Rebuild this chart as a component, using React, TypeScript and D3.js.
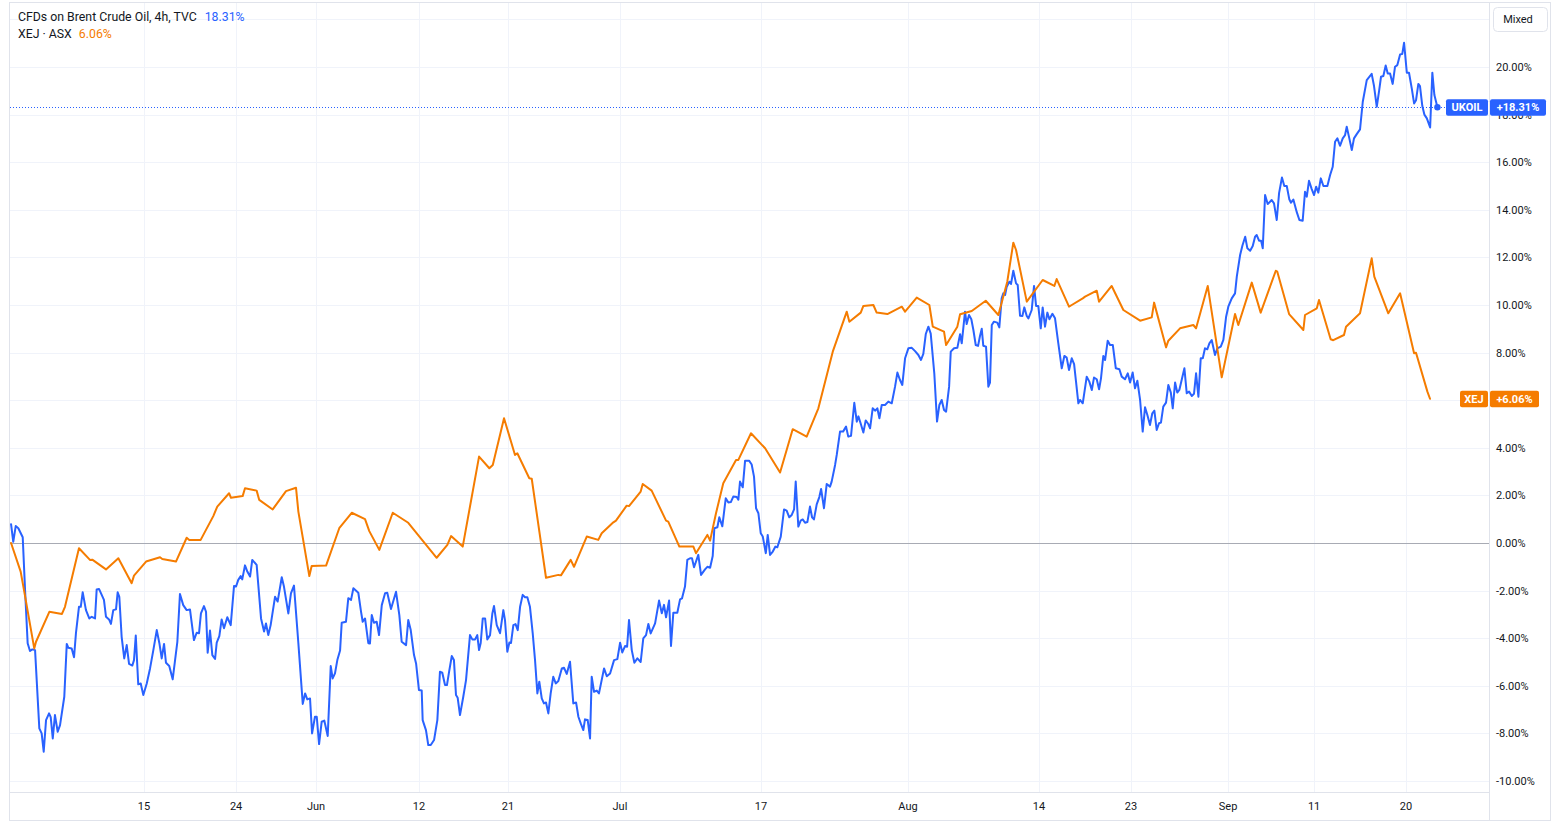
import React, { useEffect } from "react";
import * as d3 from "d3";

// x = trading days since 1 May 2023, y = % change
const oilSeries: [number, number][] = [
  [0.31, 0.79], [0.47, 0.05], [0.65, 0.71], [0.84, 0.62], [1.16, 0.24], [1.33, -1.97], [1.52, -4.21], [1.69, -4.54],
  [1.86, -4.47], [2.06, -4.5], [2.37, -7.79], [2.54, -8.0], [2.69, -8.77], [2.86, -7.44], [3.08, -7.16], [3.2, -7.32],
  [3.35, -8.21], [3.51, -7.23], [3.71, -7.93], [3.88, -7.65], [4.19, -6.46], [4.37, -4.24], [4.48, -4.4], [4.73, -4.43],
  [4.9, -4.8], [5.04, -3.79], [5.26, -2.68], [5.39, -2.68], [5.53, -2.07], [5.77, -2.82], [6.01, -3.17], [6.19, -3.1],
  [6.43, -3.17], [6.55, -1.95], [6.72, -1.93], [7.08, -2.39], [7.23, -3.1], [7.45, -3.21], [7.59, -3.4], [7.76, -2.82],
  [7.96, -2.79], [8.08, -2.07], [8.2, -2.26], [8.37, -3.94], [8.56, -4.85], [8.74, -4.29], [8.91, -5.08], [9.15, -5.15],
  [9.27, -4.92], [9.4, -3.89], [9.58, -5.94], [9.76, -5.9], [9.95, -6.39], [10.2, -5.9], [10.44, -5.27], [10.68, -4.5],
  [10.93, -3.66], [11.12, -4.21], [11.29, -4.85], [11.46, -4.24], [11.6, -5.03], [11.84, -5.17], [12.09, -5.73], [12.43, -4.15],
  [12.62, -2.14], [12.86, -2.61], [13.11, -2.82], [13.35, -2.79], [13.64, -4.08], [13.84, -3.77], [14.01, -3.79], [14.15, -2.96],
  [14.37, -2.65], [14.52, -2.89], [14.64, -4.61], [14.81, -3.68], [14.98, -4.71], [15.18, -4.87], [15.3, -4.19], [15.49, -3.91],
  [15.66, -3.21], [15.83, -3.58], [16.07, -3.12], [16.32, -3.45], [16.56, -1.81], [16.71, -1.83], [16.87, -1.55], [17.05, -1.39],
  [17.16, -1.53], [17.36, -0.94], [17.53, -1.2], [17.73, -1.41], [17.89, -0.71], [18.21, -0.92], [18.53, -3.17], [18.75, -3.72],
  [18.89, -3.38], [19.06, -3.87], [19.23, -3.45], [19.55, -2.26], [19.74, -2.46], [20.04, -1.44], [20.2, -1.83], [20.52, -2.96],
  [20.71, -2.12], [20.93, -1.79], [21.25, -4.21], [21.57, -6.76], [21.74, -6.32], [21.9, -6.57], [22.1, -6.53], [22.25, -8.0],
  [22.46, -7.3], [22.59, -7.3], [22.76, -8.45], [22.95, -7.51], [23.14, -7.46], [23.39, -8.11], [23.61, -5.17], [23.75, -5.69],
  [23.92, -5.48], [24.09, -4.92], [24.29, -4.52], [24.41, -3.35], [24.72, -3.31], [24.89, -2.32], [25.09, -2.39], [25.26, -1.9],
  [25.62, -2.09], [25.82, -2.89], [25.94, -3.31], [26.11, -3.17], [26.35, -4.21], [26.47, -4.22], [26.6, -3.03], [26.76, -3.35],
  [26.96, -3.31], [27.13, -3.87], [27.33, -2.61], [27.57, -2.11], [27.73, -2.09], [28.0, -2.77], [28.37, -2.05], [28.61, -3.03],
  [28.78, -4.15], [29.1, -4.29], [29.26, -3.24], [29.44, -3.66], [29.68, -4.71], [29.83, -5.06], [30.04, -6.18], [30.24, -6.2],
  [30.31, -7.44], [30.55, -7.86], [30.72, -8.49], [30.9, -8.49], [31.14, -8.28], [31.38, -7.44], [31.57, -5.41], [31.74, -5.45],
  [31.94, -5.97], [32.08, -5.97], [32.25, -5.36], [32.43, -4.75], [32.59, -4.92], [32.74, -6.39], [32.86, -6.5], [33.03, -7.23],
  [33.27, -6.46], [33.47, -5.76], [33.76, -3.87], [33.93, -4.05], [34.13, -4.05], [34.29, -3.87], [34.42, -4.5], [34.54, -4.2],
  [34.69, -3.17], [34.86, -3.17], [35.02, -4.05], [35.22, -3.87], [35.39, -2.96], [35.51, -2.65], [35.71, -3.45], [35.95, -3.79],
  [36.19, -2.82], [36.31, -3.24], [36.48, -4.57], [36.63, -4.18], [36.75, -4.2], [36.92, -3.45], [37.08, -3.41], [37.24, -3.66],
  [37.41, -2.68], [37.6, -2.18], [37.77, -2.28], [37.94, -2.28], [38.13, -2.68], [38.33, -3.79], [38.5, -4.92], [38.67, -6.32],
  [38.81, -5.83], [38.99, -6.53], [39.15, -6.74], [39.3, -6.7], [39.47, -7.16], [39.64, -6.32], [39.83, -5.62], [40.01, -5.9],
  [40.2, -5.8], [40.45, -5.27], [40.61, -5.24], [40.81, -5.5], [41.05, -4.99], [41.29, -6.74], [41.49, -6.7], [41.66, -7.3],
  [41.83, -7.58], [42.02, -7.86], [42.14, -7.41], [42.34, -7.44], [42.51, -8.21], [42.63, -5.62], [42.8, -6.25], [43.0, -6.2],
  [43.16, -6.32], [43.53, -5.27], [43.73, -5.6], [43.97, -5.48], [44.26, -4.92], [44.5, -4.88], [44.7, -4.19], [44.86, -4.6],
  [45.06, -4.33], [45.21, -4.36], [45.35, -3.24], [45.55, -4.5], [45.74, -5.03], [45.96, -4.85], [46.2, -5.0], [46.39, -4.01],
  [46.59, -3.87], [46.76, -3.4], [46.93, -3.8], [47.25, -3.38], [47.54, -2.42], [47.74, -2.95], [47.9, -2.6], [48.05, -3.12],
  [48.27, -2.42], [48.41, -4.33], [48.58, -2.93], [48.87, -2.93], [49.07, -2.37], [49.21, -2.33], [49.43, -1.83], [49.6, -0.71],
  [49.8, -0.64], [49.94, -0.64], [50.09, -1.02], [50.4, -0.5], [50.6, -1.34], [50.89, -1.11], [51.06, -1.0], [51.26, -1.04],
  [51.45, -0.55], [51.57, 0.62], [51.79, 0.66], [51.93, 1.08], [52.15, 0.7], [52.4, 1.88], [52.59, 1.7], [52.77, 1.72],
  [52.95, 1.95], [53.2, 1.93], [53.32, 1.82], [53.44, 2.58], [53.64, 2.34], [53.81, 3.46], [54.1, 3.46], [54.29, 3.3],
  [54.46, 2.79], [54.61, 1.46], [54.78, 1.25], [54.95, 0.41], [55.1, 0.27], [55.32, -0.43], [55.46, 0.34], [55.63, -0.5],
  [55.83, -0.36], [56.02, -0.15], [56.16, -0.18], [56.41, 0.27], [56.65, 1.41], [56.84, 1.36], [57.03, 1.08], [57.21, 1.18],
  [57.38, 1.41], [57.5, 2.58], [57.69, 0.69], [57.86, 0.94], [58.01, 0.99], [58.18, 0.85], [58.35, 0.88], [58.54, 1.53],
  [58.69, 1.08], [58.83, 0.99], [59.03, 1.62], [59.22, 1.93], [59.35, 2.27], [59.56, 1.46], [59.76, 2.48], [60.0, 2.37],
  [60.12, 2.58], [60.37, 3.28], [60.49, 3.7], [60.73, 4.68], [60.95, 4.68], [61.17, 4.89], [61.33, 4.47], [61.53, 4.5],
  [61.77, 5.89], [61.95, 5.1], [62.07, 5.32], [62.24, 5.01], [62.43, 4.64], [62.6, 5.15], [62.79, 5.0], [62.92, 4.82],
  [63.11, 5.66], [63.3, 5.56], [63.45, 5.66], [63.6, 5.24], [63.77, 5.8], [64.01, 5.8], [64.25, 5.94], [64.5, 5.87],
  [64.74, 6.57], [64.91, 7.16], [65.1, 6.85], [65.27, 6.64], [65.47, 7.76], [65.71, 8.18], [65.96, 8.2], [66.2, 8.06],
  [66.44, 7.9], [66.63, 7.69], [66.8, 7.95], [66.98, 8.78], [67.17, 9.09], [67.34, 8.8], [67.6, 7.13], [67.8, 5.1],
  [67.97, 5.8], [68.14, 6.01], [68.31, 5.59], [68.46, 5.52], [68.68, 6.57], [68.8, 8.04], [69.04, 8.18], [69.28, 8.2],
  [69.48, 8.77], [69.6, 8.39], [69.84, 9.72], [69.96, 9.2], [70.13, 9.58], [70.3, 9.4], [70.45, 8.95], [70.62, 8.32],
  [70.79, 8.28], [70.93, 8.7], [71.06, 9.0], [71.17, 8.29], [71.37, 8.25], [71.54, 6.57], [71.66, 6.74], [71.79, 9.16],
  [71.95, 9.3], [72.19, 9.26], [72.34, 9.06], [72.51, 10.28], [72.63, 10.49], [72.76, 10.42], [72.88, 10.77], [73.07, 10.98],
  [73.19, 10.88], [73.36, 11.44], [73.56, 10.91], [73.68, 10.84], [73.85, 9.55], [74.02, 9.54], [74.16, 9.9], [74.34, 9.54],
  [74.46, 9.44], [74.7, 9.79], [74.87, 10.8], [75.02, 9.96], [75.18, 9.96], [75.36, 9.02], [75.5, 9.9], [75.67, 9.09],
  [75.84, 9.68], [75.99, 9.4], [76.21, 9.63], [76.4, 9.44], [76.64, 8.39], [76.89, 7.34], [77.08, 7.86], [77.25, 7.79],
  [77.42, 7.27], [77.62, 7.76], [77.79, 7.52], [77.93, 6.78], [78.1, 5.87], [78.22, 6.01], [78.42, 5.87], [78.71, 6.99],
  [78.9, 6.78], [79.08, 6.43], [79.24, 6.95], [79.44, 6.88], [79.61, 6.46], [79.75, 6.92], [79.92, 7.86], [80.05, 7.69],
  [80.24, 8.5], [80.41, 8.32], [80.61, 8.32], [80.83, 7.34], [81.09, 7.3], [81.26, 6.99], [81.5, 6.88], [81.7, 7.13],
  [81.87, 6.74], [82.06, 7.16], [82.23, 6.5], [82.4, 6.82], [82.6, 6.01], [82.79, 4.68], [82.96, 5.7], [83.13, 5.38],
  [83.32, 4.96], [83.49, 5.45], [83.64, 5.56], [83.81, 4.75], [83.98, 5.03], [84.12, 5.06], [84.29, 5.73], [84.49, 5.9],
  [84.66, 6.64], [84.84, 6.32], [84.98, 5.66], [85.15, 6.74], [85.31, 6.32], [85.46, 6.43], [85.66, 6.92], [85.83, 7.34],
  [86.0, 6.29], [86.17, 6.36], [86.37, 6.18], [86.53, 6.27], [86.68, 7.13], [86.85, 6.15], [87.02, 7.76], [87.17, 7.76],
  [87.33, 8.18], [87.5, 8.14], [87.65, 8.39], [87.82, 8.53], [88.06, 7.9], [88.23, 8.18], [88.48, 8.25], [88.67, 8.53],
  [88.87, 9.51], [89.03, 9.93], [89.28, 10.28], [89.52, 10.49], [89.65, 11.2], [89.89, 12.1], [90.06, 12.5], [90.26, 12.87],
  [90.42, 12.38], [90.62, 12.28], [90.81, 12.48], [90.98, 12.87], [91.1, 12.94], [91.27, 12.7], [91.42, 12.7], [91.54, 12.38],
  [91.71, 14.62], [91.9, 14.24], [92.19, 14.41], [92.36, 14.27], [92.56, 13.57], [92.73, 14.7], [92.94, 15.36], [93.11, 15.0],
  [93.29, 15.0], [93.48, 14.43], [93.6, 14.3], [93.77, 14.43], [94.02, 13.9], [94.21, 13.57], [94.45, 13.54], [94.62, 14.76],
  [94.75, 14.55], [94.91, 15.22], [95.11, 14.87], [95.28, 14.62], [95.43, 14.97], [95.59, 14.72], [95.77, 15.32], [95.96, 15.0],
  [96.25, 15.0], [96.45, 15.46], [96.64, 15.81], [96.81, 16.86], [96.98, 17.0], [97.17, 16.69], [97.37, 17.0], [97.54, 17.14],
  [97.66, 17.49], [97.85, 17.0], [98.03, 16.51], [98.19, 17.0], [98.39, 17.18], [98.63, 17.38], [98.83, 18.54], [99.12, 19.45],
  [99.48, 19.71], [99.65, 19.2], [99.85, 18.33], [100.02, 19.0], [100.16, 19.59], [100.33, 19.62], [100.5, 20.06], [100.65, 19.73],
  [100.82, 19.73], [101.01, 19.29], [101.18, 20.01], [101.35, 20.08], [101.55, 20.53], [101.71, 20.55], [101.84, 21.02], [102.04, 19.76],
  [102.2, 19.76], [102.4, 19.1], [102.57, 18.47], [102.71, 18.6], [102.88, 19.29], [103.0, 19.2], [103.17, 18.36], [103.32, 18.0],
  [103.5, 17.84], [103.74, 17.46], [103.9, 19.76], [104.05, 18.82], [104.27, 18.31],
];

const xejSeries: [number, number][] = [
  [0.31, 0.0], [1.01, -1.2], [1.25, -1.97], [2.0, -4.43], [2.13, -4.15], [3.1, -2.89], [4.02, -2.98], [4.24, -2.68],
  [5.26, -0.22], [6.06, -0.71], [6.23, -0.7], [7.23, -1.11], [8.13, -0.64], [9.1, -1.69], [9.27, -1.37], [10.15, -0.78],
  [11.17, -0.6], [11.33, -0.67], [12.33, -0.78], [13.11, 0.22], [13.3, 0.13], [14.13, 0.13], [15.05, 1.13], [15.34, 1.53],
  [16.2, 2.09], [16.34, 1.9], [17.19, 1.97], [17.36, 2.3], [18.21, 2.2], [18.4, 1.81], [19.38, 1.41], [20.35, 2.18],
  [21.08, 2.32], [21.25, 1.32], [22.05, -1.39], [22.22, -0.97], [23.27, -0.95], [24.23, 0.62], [25.14, 1.27], [26.11, 1.0],
  [26.42, 0.5], [27.15, -0.29], [28.13, 1.27], [29.26, 0.85], [31.33, -0.62], [32.11, -0.08], [32.38, 0.29], [33.23, -0.15],
  [34.42, 3.63], [35.17, 3.14], [35.42, 3.28], [36.24, 5.24], [37.04, 3.7], [37.21, 3.77], [38.08, 2.72], [38.26, 2.7],
  [39.3, -1.46], [40.2, -1.34], [40.39, -1.36], [41.1, -0.71], [41.34, -1.0], [42.27, 0.27], [43.11, 0.13], [43.36, 0.41],
  [44.21, 0.87], [44.4, 0.94], [45.18, 1.57], [45.35, 1.55], [46.2, 2.16], [46.35, 2.48], [47.0, 2.2], [48.05, 0.94],
  [48.21, 0.9], [49.02, -0.15], [50.04, -0.15], [50.23, -0.43], [51.06, 0.34], [51.26, 0.1], [51.69, 1.25], [52.22, 2.51],
  [53.15, 3.49], [53.32, 3.49], [54.24, 4.61], [55.27, 3.98], [56.36, 2.96], [57.28, 4.78], [58.3, 4.47], [59.15, 5.66],
  [60.2, 8.04], [61.22, 9.72], [61.41, 9.3], [62.24, 9.68], [62.43, 9.96], [63.16, 10.0], [63.4, 9.68], [64.18, 9.62],
  [65.23, 9.93], [65.47, 9.72], [66.32, 10.31], [67.24, 10.0], [67.49, 9.09], [68.31, 8.88], [68.46, 8.32], [69.28, 9.09],
  [69.48, 9.61], [70.33, 9.75], [71.35, 10.18], [72.27, 9.58], [72.92, 10.98], [73.36, 12.62], [73.56, 12.31], [74.34, 10.14],
  [75.5, 11.05], [76.35, 10.8], [76.52, 11.09], [77.42, 9.93], [77.62, 10.0], [78.42, 10.28], [78.59, 10.35], [79.44, 10.6],
  [79.61, 10.14], [80.53, 10.8], [81.38, 9.79], [82.6, 9.34], [83.45, 9.48], [83.62, 10.1], [84.49, 8.22], [84.66, 8.5],
  [85.51, 9.02], [86.48, 9.16], [86.68, 9.02], [87.53, 10.8], [88.55, 6.96], [89.52, 9.62], [89.76, 9.16], [90.74, 10.94],
  [91.39, 9.68], [92.49, 11.44], [92.6, 11.4], [93.46, 9.62], [94.5, 8.95], [94.62, 9.58], [95.48, 9.86], [95.64, 10.21],
  [96.49, 8.56], [96.68, 8.52], [97.46, 8.74], [97.61, 9.09], [98.63, 9.65], [99.48, 11.96], [99.67, 11.19], [100.69, 9.65],
  [101.55, 10.49], [102.57, 7.97], [102.71, 7.99], [103.54, 6.36], [103.73, 6.06],
];

const timeTickDays = [10, 16.71, 22.54, 30.04, 36.53, 44.69, 54.97, 65.68, 75.23, 81.94, 89.01, 95.28, 101.98];
const timeTickLabels = ["15", "24", "Jun", "12", "21", "Jul", "17", "Aug", "14", "23", "Sep", "11", "20"];
const priceTicks = [-10, -8, -6, -4, -2, 0, 2, 4, 6, 8, 10, 12, 14, 16, 18, 20];
const gridTicks = [-10, -8, -6, -4, -2, 2, 4, 6, 8, 10, 12, 14, 16, 18, 20, 22];

const oilName = "UKOIL";
const oilTitle = "CFDs on Brent Crude Oil, 4h, TVC";
const oilLast = 18.31;
const xejName = "XEJ";
const xejTitle = "XEJ · ASX";
const xejLast = 6.06;

const BLUE = "#2962ff";
const ORANGE = "#f57c00";
const FONT = "Roboto, 'Liberation Sans', sans-serif";
const TEXT = "#131722";

export default function App() {
  useEffect(() => {
    document.body.style.margin = "0";
    document.body.style.overflow = "hidden";
  }, []);

  const W = 1561, H = 822;
  const left = 10, right = 1489, top = 3, bottom = 792;
  const x = d3.scaleLinear().domain([0.233, 108.03]).range([left, right]);
  const y = d3.scaleLinear().domain([-10, 20]).range([781, 67]);
  const line = d3.line<[number, number]>().x((d) => x(d[0])).y((d) => y(d[1]));

  const fmt = (v: number) => v.toFixed(2) + "%";
  const oilEnd = oilSeries[oilSeries.length - 1];
  const yOil = y(oilLast);
  const yXej = y(xejLast);
  // a price label fully covered by a last-value badge is not shown
  const visiblePriceTicks = priceTicks.filter((t) => Math.abs(y(t) - yXej) > 6);

  return (
    <svg width={W} height={H} style={{ display: "block", position: "absolute", left: 0, top: 0 }} fontFamily={FONT}>
      <defs>
        <clipPath id="plot">
          <rect x={left} y={top} width={right - left} height={bottom - top} />
        </clipPath>
      </defs>
      <rect x={0} y={0} width={W} height={H} fill="#ffffff" />
      <rect x={9.5} y={2.5} width={1541} height={818} fill="#ffffff" stroke="#e0e3eb" />
      {/* grid */}
      <g stroke="#f0f3fa" strokeWidth={1}>
        {gridTicks.map((t) => (
          <line key={"h" + t} x1={left} x2={right} y1={Math.round(y(t)) + 0.5} y2={Math.round(y(t)) + 0.5} />
        ))}
        {timeTickDays.map((d, i) => (
          <line key={"v" + i} x1={Math.round(x(d)) + 0.5} x2={Math.round(x(d)) + 0.5} y1={top} y2={bottom} />
        ))}
      </g>
      <line x1={left} x2={right} y1={Math.round(y(0)) + 0.5} y2={Math.round(y(0)) + 0.5} stroke="#a8abb4" strokeWidth={1} />
      {/* price line */}
      <line x1={left} x2={right} y1={Math.round(yOil) + 0.5} y2={Math.round(yOil) + 0.5} stroke={BLUE} strokeWidth={1} strokeDasharray="1 2" />
      <g clipPath="url(#plot)" fill="none" strokeLinejoin="round" strokeLinecap="round">
        <path d={line(oilSeries) || ""} stroke={BLUE} strokeWidth={2} />
        <path d={line(xejSeries) || ""} stroke={ORANGE} strokeWidth={2} />
      </g>
      <circle cx={x(oilEnd[0])} cy={y(oilEnd[1])} r={3.2} fill={BLUE} />
      {/* axes separators */}
      <line x1={left} x2={right} y1={bottom + 0.5} y2={bottom + 0.5} stroke="#e0e3eb" />
      <line x1={right + 0.5} x2={right + 0.5} y1={top} y2={820} stroke="#e0e3eb" />
      {/* time labels */}
      <g fontSize={11} fill={TEXT} textAnchor="middle">
        {timeTickDays.map((d, i) => (
          <text key={"t" + i} x={x(d)} y={810}>{timeTickLabels[i]}</text>
        ))}
      </g>
      {/* price labels */}
      <g fontSize={11} fill={TEXT}>
        {visiblePriceTicks.map((t) => (
          <text key={"p" + t} x={1496} y={y(t) + 4}>{fmt(t)}</text>
        ))}
      </g>
      {/* Mixed button */}
      <rect x={1493.5} y={7.5} width={54} height={24} rx={4} fill="#ffffff" stroke="#e0e3eb" />
      <text x={1518} y={23} fontSize={11} fill={TEXT} textAnchor="middle">Mixed</text>
      {/* last value labels */}
      <g fontSize={11} fontWeight={700} fill="#ffffff" textAnchor="middle">
        <rect x={1446} y={yOil - 8} width={42} height={16.5} rx={2} fill={BLUE} />
        <text x={1467} y={yOil + 4}>{oilName}</text>
        <rect x={1490} y={yOil - 8} width={56} height={16.5} rx={2} fill={BLUE} />
        <text x={1518} y={yOil + 4}>{"+" + fmt(oilLast)}</text>
        <rect x={1460} y={yXej - 8} width={28} height={16.5} rx={2} fill={ORANGE} />
        <text x={1474} y={yXej + 4}>{xejName}</text>
        <rect x={1490} y={yXej - 8} width={49} height={16.5} rx={2} fill={ORANGE} />
        <text x={1514.5} y={yXej + 4}>{"+" + fmt(xejLast)}</text>
      </g>
      {/* legend */}
      <g fontSize={12.3}>
        <text x={18} y={21} fill={TEXT}>
          {oilTitle}
          <tspan dx={8} fill={BLUE}>{fmt(oilLast)}</tspan>
        </text>
        <text x={18} y={38} fill={TEXT}>
          {xejTitle}
          <tspan dx={7} fill={ORANGE}>{fmt(xejLast)}</tspan>
        </text>
      </g>
    </svg>
  );
}
